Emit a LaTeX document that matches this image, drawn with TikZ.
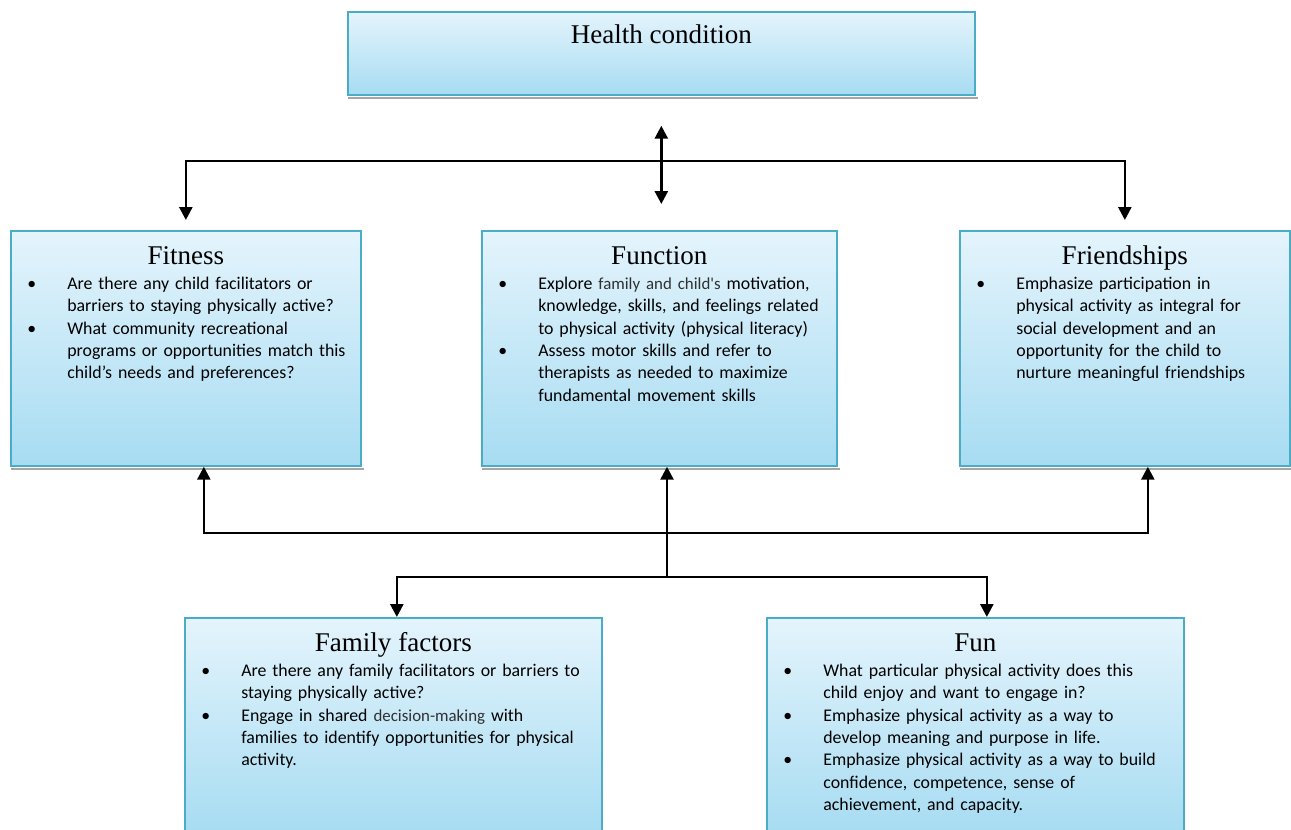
\documentclass[tikz,border=0pt]{standalone}
\usepackage{fontspec}
\setmainfont{Liberation Serif}
\newfontfamily\bodyfont{Carlito}
\usetikzlibrary{arrows.meta,positioning,calc}
\definecolor{boxline}{HTML}{4BACC6}
\definecolor{boxtop}{HTML}{E4F4FC}
\definecolor{boxbot}{HTML}{A7DCF2}
\definecolor{softtxt}{HTML}{303030}
\newcommand{\pitem}{\par\noindent\hangindent=0.8cm\hangafter=1\makebox[0.8cm][l]{\strut\textbullet}}
\newcommand{\nl}{\newline}
\newcommand{\soft}[1]{{\color{softtxt}\fontsize{9.6}{12.7}\selectfont #1}}
\tikzset{
  panel/.style   = {draw=boxline, line width=1pt, rectangle, top color=boxtop,
                    bottom color=boxbot, anchor=north west, inner sep=0pt},
  ptitle/.style  = {font=\fontsize{15.4}{18}\selectfont, inner sep=0pt, anchor=base},
  pbody/.style   = {font=\bodyfont\fontsize{10.15}{12.7}\selectfont,
                    anchor=north west, inner sep=0pt},
  pshade/.style  = {draw=black!35, line width=1.3pt},
  sig/.style     = {-{Triangle[length=0.26cm,width=0.26cm]}, line width=1.5pt},
  dsig/.style    = {{Triangle[length=0.26cm,width=0.26cm]}-{Triangle[length=0.26cm,width=0.26cm]}, line width=1.5pt},
}
\begin{document}
\begin{tikzpicture}[x=0.02cm,y=-0.02cm]
\path[use as bounding box, clip] (0,0) rectangle (1291,829);
\node[panel, minimum width=12.54cm, minimum height=1.66cm] (health) at (347,11) {};
\node[panel, minimum width=7cm, minimum height=4.7cm] (fit) at (10,230) {};
\node[panel, minimum width=7.1cm, minimum height=4.7cm] (func) at (481,230) {};
\node[panel, minimum width=6.6cm, minimum height=4.7cm] (friend) at (959,230) {};
\node[panel, minimum width=8.34cm, minimum height=4.3cm] (family) at (184,617) {};
\node[panel, minimum width=8.34cm, minimum height=4.3cm] (fun) at (766,617) {};
\foreach \b in {health,fit,func,friend}
  \draw[pshade] ([xshift=0.02cm,yshift=-0.05cm]\b.south west) -- ([xshift=0.04cm,yshift=-0.05cm]\b.south east);

\node[ptitle] (healthT) at ([yshift=-0.66cm]health.north) {Health condition};
\node[ptitle] (fitT) at ([yshift=-0.68cm]fit.north) {Fitness};
\node[ptitle] (funcT) at ([yshift=-0.68cm]func.north) {Function};
\node[ptitle] (friendT) at ([yshift=-0.68cm]friend.north) {Friendships};
\node[ptitle] (familyT) at ([yshift=-0.68cm]family.north) {Family factors};
\node[ptitle] (funT) at ([yshift=-0.68cm]fun.north) {Fun};

\node[pbody, text width=6.6cm] (fitB) at ([xshift=0.34cm,yshift=-0.74cm]fit.north west) {%
  \pitem Are there any child facilitators or\nl barriers to staying physically active?
  \pitem What community recreational\nl programs or opportunities match this\nl child’s needs and preferences?\par};
\node[pbody, text width=6.7cm] (funcB) at ([xshift=0.34cm,yshift=-0.74cm]func.north west) {%
  \pitem Explore \soft{family and child's} motivation,\nl knowledge, skills, and feelings related\nl to physical activity (physical literacy)
  \pitem Assess motor skills and refer to\nl therapists as needed to maximize\nl fundamental movement skills\par};
\node[pbody, text width=6.2cm] (friendB) at ([xshift=0.34cm,yshift=-0.74cm]friend.north west) {%
  \pitem Emphasize participation in\nl physical activity as integral for\nl social development and an\nl opportunity for the child to\nl nurture meaningful friendships\par};
\node[pbody, text width=7.9cm] (familyB) at ([xshift=0.34cm,yshift=-0.74cm]family.north west) {%
  \pitem Are there any family facilitators or barriers to\nl staying physically active?
  \pitem Engage in shared \soft{decision-making} with\nl families to identify opportunities for physical\nl activity.\par};
\node[pbody, text width=7.9cm] (funB) at ([xshift=0.34cm,yshift=-0.74cm]fun.north west) {%
  \pitem What particular physical activity does this\nl child enjoy and want to engage in?
  \pitem Emphasize physical activity as a way to\nl develop meaning and purpose in life.
  \pitem Emphasize physical activity as a way to build\nl confidence, competence, sense of\nl achievement, and capacity.\par};

\coordinate (hubT) at (661,161);
\coordinate (hubB) at (667,533);
\coordinate (hubC) at (667,577);
\draw[dsig, shorten <=0.6cm, shorten >=0.52cm] (health.south) -- (health.south |- func.north);
\draw[sig, shorten >=0.2cm] (hubT) -| (fit.north);
\draw[sig, shorten >=0.2cm] (hubT) -| (friend.north);
\draw[sig] (hubC) -- (hubC |- func.south);
\draw[sig] (hubB) -| ([xshift=0.36cm]fit.south);
\draw[sig] (hubB) -| ([xshift=0.46cm]friend.south);
\draw[sig] (hubC) -| ([xshift=0.07cm]family.north);
\draw[sig] (hubC) -| ([xshift=0.23cm]fun.north);
\end{tikzpicture}
\end{document}
